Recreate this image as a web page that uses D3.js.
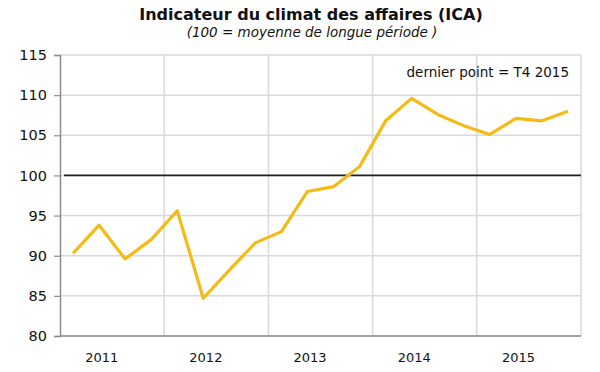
<!DOCTYPE html>
<head>
  <meta charset="utf-8">
  <script src="https://d3js.org/d3.v7.min.js"></script>
  <style>
    body { margin:0; background:#fff; }
    svg { display:block; }
    text { font-family: "DejaVu Sans", Verdana, sans-serif; fill:#111; }
  </style>
</head>
<body>
<script>
  // quarterly values, T1 2011 .. T4 2015
  var quarters = ["T1 2011","T2 2011","T3 2011","T4 2011",
                  "T1 2012","T2 2012","T3 2012","T4 2012",
                  "T1 2013","T2 2013","T3 2013","T4 2013",
                  "T1 2014","T2 2014","T3 2014","T4 2014",
                  "T1 2015","T2 2015","T3 2015","T4 2015"];
  var ica = [90.3, 93.8, 89.6, 92.0,
             95.6, 84.7, 88.2, 91.6,
             93.0, 98.0, 98.6, 101.1,
             106.8, 109.6, 107.6, 106.2,
             105.1, 107.1, 106.8, 108.0];
  var years = ["2011","2012","2013","2014","2015"];
  var yTicks = [80, 85, 90, 95, 100, 105, 110, 115];

  var width = 600, height = 372;
  var svg = d3.select("body").append("svg")
      .attr("width", width).attr("height", height);

  var x = d3.scaleLinear().domain([-0.5, quarters.length - 0.5]).range([60, 581]);
  var y = d3.scaleLinear().domain([80, 115]).range([336, 55]);

  // horizontal grid
  svg.append("g").selectAll("line")
    .data(yTicks)
    .enter().append("line")
    .attr("x1", x(-0.5)).attr("x2", x(19.5))
    .attr("y1", function(d) { return y(d); })
    .attr("y2", function(d) { return y(d); })
    .attr("stroke", "#d9d9d9").attr("stroke-width", 1.5);

  // vertical grid between years
  svg.append("g").selectAll("line")
    .data([3.5, 7.5, 11.5, 15.5, 19.5])
    .enter().append("line")
    .attr("x1", function(d) { return x(d); })
    .attr("x2", function(d) { return x(d); })
    .attr("y1", y(115)).attr("y2", y(80))
    .attr("stroke", "#d9d9d9").attr("stroke-width", 1.5);

  // y axis
  var yAxis = svg.append("g")
    .attr("transform", "translate(" + x(-0.5) + ",0)")
    .call(d3.axisLeft(y).tickValues(yTicks).tickSize(6).tickPadding(7));
  yAxis.select(".domain").attr("stroke", "#8c8c8c").attr("stroke-width", 1.5);
  yAxis.selectAll(".tick line").attr("stroke", "#8c8c8c").attr("stroke-width", 1.2);
  yAxis.selectAll(".tick text")
    .style("font-family", "'DejaVu Sans', Verdana, sans-serif")
    .style("font-size", "14.5px").attr("fill", "#111");

  // x axis line
  svg.append("line")
    .attr("x1", x(-0.5)).attr("x2", x(19.5))
    .attr("y1", y(80)).attr("y2", y(80))
    .attr("stroke", "#8c8c8c").attr("stroke-width", 1.5);

  svg.append("g").selectAll("text")
    .data(years)
    .enter().append("text")
    .attr("x", function(d, i) { return x(i * 4 + 1.1); })
    .attr("y", 362)
    .attr("text-anchor", "middle")
    .style("font-size", "13px")
    .text(function(d) { return d; });

  // reference line at 100
  svg.append("line")
    .attr("x1", x(-0.5) + 4).attr("x2", x(19.5))
    .attr("y1", y(100)).attr("y2", y(100))
    .attr("stroke", "#222").attr("stroke-width", 1.8);

  var line = d3.line()
    .x(function(d, i) { return x(i); })
    .y(function(d) { return y(d); });

  svg.append("path")
    .datum(ica)
    .attr("d", line)
    .attr("fill", "none")
    .attr("stroke", "#f4bb16")
    .attr("stroke-width", 3.2)
    .attr("stroke-linejoin", "round");

  svg.append("text")
    .attr("x", 569).attr("y", 77)
    .attr("text-anchor", "end")
    .style("font-size", "13.5px")
    .text("dernier point  = T4  2015");

  svg.append("text")
    .attr("x", 311).attr("y", 20)
    .attr("text-anchor", "middle")
    .style("font-size", "16px").style("font-weight", "bold")
    .text("Indicateur du climat des affaires (ICA)");

  svg.append("text")
    .attr("x", 312).attr("y", 37)
    .attr("text-anchor", "middle")
    .style("font-size", "13.5px").style("font-style", "italic")
    .text("(100 = moyenne de longue période )");
</script>
</body>
